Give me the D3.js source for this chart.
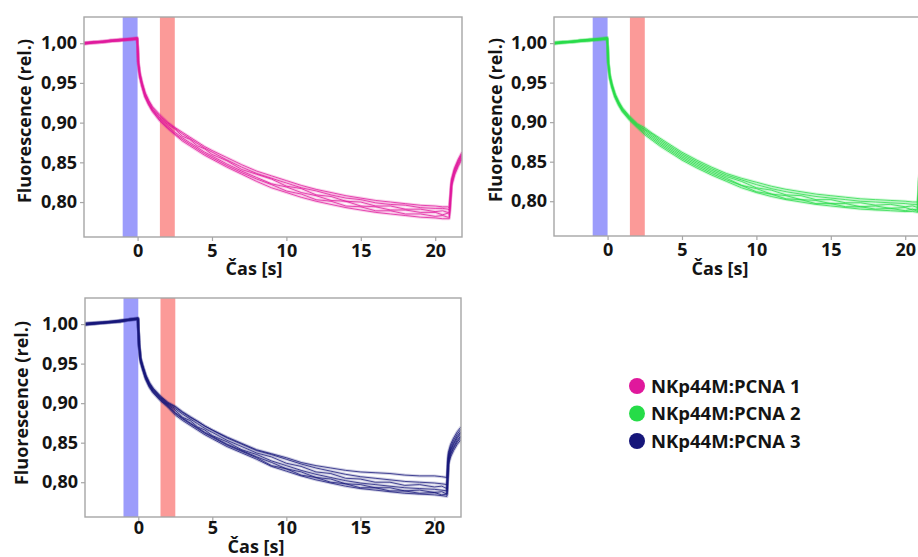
<!DOCTYPE html>
<html>
<head>
<meta charset="utf-8">
<script src="https://cdn.jsdelivr.net/npm/d3@7/dist/d3.min.js"></script>
<style>
  html, body { margin: 0; padding: 0; background: #fff; }
  svg { display: block; }
  text { font-family: "Open Sans", "DejaVu Sans", sans-serif; font-weight: 700; fill: #141414; }
</style>
</head>
<body>
<svg id="chart" width="918" height="557"></svg>
<script>
// ---------------- DATA ----------------
const times = [-3.6, -3.0, -2.4, -1.8, -1.2, -0.6, -0.02, 0.05, 0.15, 0.3, 0.5, 0.75, 1.0, 1.5, 2.0,
  2.5, 3.0, 3.5, 4.0, 4.5, 5.0, 6.0, 7.0, 8.0, 9.0, 10.0, 11.0, 12.0, 13.0, 14.0, 15.0, 16.0, 17.0,
  18.0, 19.0, 20.0, 20.5, 20.85, 20.95, 21.1, 21.3, 21.55, 21.8];

const seriesNames = ["NKp44M:PCNA 1", "NKp44M:PCNA 2", "NKp44M:PCNA 3"];
const seriesColors = ["#e0189c", "#26dc48", "#16167a"];

const xTickValues = [0, 5, 10, 15, 20];
const yTickValues = [0.80, 0.85, 0.90, 0.95, 1.00];
const bleachBand = [-1.0, 0.0];
const imagingBand = [1.5, 2.5];
const xTitle = "Čas [s]";
const yTitle = "Fluorescence (rel.)";

// NKp44M:PCNA 1 (magenta) – individual traces
const pcna1Traces = [
  [1.001,1.001,1.003,1.003,1.005,1.006,1.007,0.978,0.963,0.951,0.938,0.928,0.920,0.910,0.901,0.894,0.888,0.882,0.876,0.870,0.865,0.856,0.847,0.839,0.833,0.827,0.821,0.816,0.812,0.808,0.805,0.802,0.800,0.798,0.796,0.795,0.794,0.794,0.793,0.829,0.843,0.854,0.863],
  [1.000,1.002,1.002,1.004,1.004,1.005,1.006,0.977,0.962,0.950,0.937,0.927,0.919,0.908,0.900,0.893,0.886,0.880,0.874,0.868,0.863,0.853,0.844,0.836,0.830,0.824,0.818,0.814,0.809,0.805,0.803,0.799,0.797,0.796,0.793,0.792,0.792,0.791,0.790,0.827,0.841,0.852,0.861],
  [0.999,1.001,1.001,1.003,1.003,1.005,1.005,0.975,0.960,0.948,0.935,0.925,0.917,0.906,0.898,0.892,0.883,0.879,0.871,0.867,0.860,0.852,0.841,0.835,0.829,0.820,0.817,0.809,0.807,0.801,0.800,0.795,0.795,0.791,0.791,0.788,0.789,0.787,0.787,0.826,0.840,0.851,0.860],
  [0.999,1.000,1.001,1.002,1.003,1.004,1.005,0.974,0.959,0.947,0.934,0.924,0.916,0.905,0.896,0.888,0.881,0.875,0.869,0.863,0.858,0.848,0.839,0.831,0.823,0.819,0.812,0.808,0.802,0.801,0.795,0.794,0.790,0.790,0.787,0.787,0.784,0.786,0.784,0.824,0.838,0.849,0.858],
  [1.001,1.002,1.002,1.004,1.005,1.005,1.007,0.973,0.958,0.946,0.933,0.923,0.915,0.903,0.894,0.886,0.879,0.873,0.867,0.861,0.856,0.846,0.837,0.829,0.822,0.814,0.810,0.803,0.801,0.795,0.794,0.789,0.789,0.785,0.785,0.782,0.783,0.781,0.781,0.822,0.836,0.847,0.856],
  [0.999,1.000,1.001,1.002,1.003,1.004,1.005,0.972,0.957,0.945,0.932,0.922,0.914,0.902,0.893,0.885,0.877,0.871,0.865,0.859,0.854,0.844,0.835,0.826,0.818,0.812,0.806,0.801,0.797,0.793,0.790,0.787,0.785,0.783,0.781,0.780,0.779,0.779,0.779,0.820,0.834,0.845,0.854]
];

// NKp44M:PCNA 2 (green) – individual traces
const pcna2Traces = [
  [1.001,1.001,1.003,1.003,1.005,1.006,1.007,0.977,0.960,0.948,0.936,0.926,0.918,0.907,0.898,0.893,0.886,0.880,0.874,0.868,0.862,0.852,0.843,0.835,0.829,0.824,0.819,0.815,0.812,0.809,0.807,0.805,0.803,0.802,0.801,0.800,0.799,0.799,0.833,0.845,0.853,0.860,0.865],
  [1.000,1.002,1.002,1.004,1.004,1.005,1.006,0.976,0.959,0.947,0.935,0.925,0.917,0.906,0.897,0.891,0.885,0.878,0.872,0.866,0.860,0.850,0.841,0.833,0.827,0.821,0.816,0.812,0.809,0.806,0.804,0.802,0.800,0.799,0.798,0.797,0.796,0.796,0.831,0.843,0.851,0.858,0.863],
  [0.999,1.001,1.001,1.003,1.003,1.005,1.005,0.975,0.958,0.946,0.934,0.924,0.916,0.905,0.896,0.890,0.883,0.876,0.870,0.864,0.858,0.848,0.839,0.831,0.825,0.817,0.814,0.808,0.807,0.802,0.802,0.798,0.798,0.795,0.796,0.793,0.794,0.792,0.830,0.842,0.850,0.857,0.862],
  [0.999,1.000,1.001,1.002,1.003,1.004,1.005,0.974,0.957,0.945,0.933,0.923,0.915,0.904,0.895,0.888,0.881,0.874,0.868,0.862,0.856,0.846,0.837,0.829,0.820,0.816,0.809,0.807,0.802,0.801,0.797,0.797,0.793,0.794,0.791,0.792,0.789,0.790,0.829,0.841,0.849,0.856,0.861],
  [1.001,1.002,1.002,1.004,1.005,1.005,1.007,0.973,0.956,0.944,0.932,0.922,0.914,0.903,0.894,0.886,0.879,0.872,0.866,0.860,0.854,0.844,0.835,0.827,0.820,0.812,0.809,0.803,0.802,0.797,0.797,0.793,0.793,0.790,0.791,0.788,0.790,0.787,0.828,0.840,0.848,0.855,0.860],
  [0.999,1.000,1.001,1.002,1.003,1.004,1.005,0.972,0.955,0.943,0.931,0.921,0.913,0.902,0.893,0.884,0.877,0.870,0.864,0.858,0.852,0.842,0.833,0.825,0.817,0.811,0.806,0.802,0.799,0.796,0.794,0.792,0.790,0.789,0.788,0.787,0.787,0.786,0.826,0.838,0.846,0.853,0.858]
];

// NKp44M:PCNA 3 (navy) – individual traces
const pcna3Traces = [
  [1.000,1.001,1.002,1.003,1.004,1.006,1.007,0.977,0.957,0.947,0.935,0.925,0.918,0.908,0.900,0.895,0.888,0.882,0.877,0.871,0.866,0.857,0.849,0.841,0.836,0.831,0.825,0.821,0.818,0.815,0.813,0.812,0.811,0.809,0.808,0.808,0.807,0.806,0.838,0.848,0.856,0.864,0.870],
  [1.001,1.002,1.002,1.004,1.005,1.006,1.008,0.978,0.958,0.948,0.936,0.926,0.919,0.909,0.901,0.896,0.889,0.883,0.877,0.871,0.866,0.856,0.848,0.840,0.835,0.829,0.823,0.818,0.814,0.810,0.807,0.805,0.803,0.801,0.800,0.799,0.798,0.797,0.835,0.845,0.853,0.861,0.867],
  [0.999,1.001,1.001,1.003,1.003,1.006,1.006,0.976,0.956,0.946,0.934,0.924,0.917,0.907,0.899,0.893,0.886,0.880,0.874,0.868,0.863,0.853,0.845,0.837,0.832,0.824,0.820,0.813,0.811,0.805,0.804,0.800,0.800,0.796,0.797,0.794,0.795,0.792,0.832,0.842,0.850,0.858,0.864],
  [1.000,1.000,1.002,1.002,1.004,1.005,1.007,0.975,0.955,0.945,0.933,0.923,0.916,0.906,0.898,0.891,0.882,0.878,0.870,0.866,0.859,0.851,0.841,0.835,0.827,0.821,0.815,0.810,0.806,0.802,0.799,0.797,0.795,0.793,0.792,0.791,0.790,0.789,0.830,0.840,0.848,0.856,0.862],
  [0.999,1.000,1.001,1.002,1.003,1.005,1.006,0.974,0.954,0.944,0.932,0.922,0.915,0.905,0.897,0.888,0.881,0.875,0.869,0.863,0.858,0.848,0.840,0.832,0.825,0.817,0.813,0.806,0.804,0.798,0.797,0.793,0.793,0.789,0.790,0.787,0.788,0.785,0.827,0.837,0.845,0.853,0.859],
  [1.001,1.002,1.003,1.003,1.005,1.006,1.007,0.973,0.953,0.943,0.931,0.921,0.914,0.904,0.896,0.887,0.880,0.874,0.868,0.862,0.857,0.847,0.839,0.831,0.821,0.817,0.809,0.806,0.800,0.798,0.793,0.793,0.789,0.789,0.786,0.787,0.784,0.785,0.825,0.835,0.843,0.851,0.857],
  [0.999,1.000,1.001,1.002,1.003,1.005,1.006,0.972,0.952,0.942,0.930,0.920,0.913,0.903,0.895,0.885,0.878,0.872,0.866,0.860,0.855,0.845,0.837,0.829,0.820,0.814,0.808,0.803,0.799,0.795,0.792,0.790,0.788,0.786,0.785,0.784,0.783,0.782,0.822,0.832,0.840,0.848,0.854]
];

const seriesTraces = [pcna1Traces, pcna2Traces, pcna3Traces];

// ---------------- LAYOUT ----------------
const xDomain = [-3.6, 21.8];
const yDomain = [0.756, 1.033];
const panelLayout = [
  { left: 84,  top: 17,  w: 378, h: 220, pad: 3, yTitleX: 31,  yTitleY: 121, xTitleDX: 170, xTitleY: 275 },
  { left: 554, top: 17,  w: 378, h: 219, pad: 3, yTitleX: 502, yTitleY: 120, xTitleDX: 166, xTitleY: 275 },
  { left: 85,  top: 298, w: 376, h: 219, pad: 0, yTitleX: 28,  yTitleY: 403, xTitleDX: 171, xTitleY: 552.5 }
];
const legendLayout = { cx: 637, textX: 651, ys: [386, 413.5, 441], r: 8 };

const svg = d3.select("#chart");
svg.append("rect").attr("width", 918).attr("height", 557).attr("fill", "#fff");

const fmtY = v => d3.format(".2f")(v).replace(".", ",");
const gridGray = "#a6a6a6";

seriesTraces.forEach((traces, i) => {
  const L = panelLayout[i];
  const x = d3.scaleLinear().domain(xDomain).range([0, L.w]);
  const y = d3.scaleLinear().domain(yDomain).range([L.h, 0]);
  const g = svg.append("g").attr("transform", `translate(${L.left},${L.top})`);

  const clipId = "clip" + i;
  g.append("clipPath").attr("id", clipId)
    .append("rect").attr("width", L.w).attr("height", L.h);

  const plot = g.append("g").attr("clip-path", `url(#${clipId})`);

  // bands
  plot.append("rect")
    .attr("x", x(bleachBand[0])).attr("width", x(bleachBand[1]) - x(bleachBand[0]))
    .attr("y", 0).attr("height", L.h).attr("fill", "#9c9cfb");
  plot.append("rect")
    .attr("x", x(imagingBand[0])).attr("width", x(imagingBand[1]) - x(imagingBand[0]))
    .attr("y", 0).attr("height", L.h).attr("fill", "#fb9a98");

  const line = d3.line().x((d, k) => x(times[k])).y(d => y(d));

  // halo to mimic the noise around each trace
  plot.selectAll("path.halo").data(traces).join("path")
    .attr("class", "halo")
    .attr("d", line).attr("fill", "none")
    .attr("stroke", seriesColors[i]).attr("stroke-opacity", 0.2)
    .attr("stroke-width", 3).attr("stroke-linejoin", "round");
  plot.selectAll("path.trace").data(traces).join("path")
    .attr("class", "trace")
    .attr("d", line).attr("fill", "none")
    .attr("stroke", seriesColors[i]).attr("stroke-opacity", 0.85)
    .attr("stroke-width", 0.9).attr("stroke-linejoin", "round");

  // axes
  const xAxis = d3.axisBottom(x).tickValues(xTickValues).tickSize(4).tickPadding(L.pad).tickFormat(d3.format("d"));
  const yAxis = d3.axisLeft(y).tickValues(yTickValues).tickSize(4).tickPadding(3).tickFormat(fmtY);

  const gx = g.append("g").attr("transform", `translate(0,${L.h})`).call(xAxis);
  const gy = g.append("g").call(yAxis);
  [gx, gy].forEach(a => {
    a.select(".domain").remove();
    a.selectAll(".tick line").attr("stroke", gridGray).attr("stroke-width", 1.2);
    a.selectAll(".tick text").attr("font-size", 18).attr("font-family", "Open Sans, sans-serif")
      .attr("font-weight", 700).attr("fill", "#141414");
  });

  // frame
  g.append("rect").attr("x", 0).attr("y", 0).attr("width", L.w).attr("height", L.h)
    .attr("fill", "none").attr("stroke", gridGray).attr("stroke-width", 1.4);

  // titles
  svg.append("text")
    .attr("x", L.left + L.xTitleDX).attr("y", L.xTitleY)
    .attr("text-anchor", "middle").attr("font-size", 18)
    .text(xTitle);
  svg.append("text")
    .attr("transform", `translate(${L.yTitleX},${L.yTitleY}) rotate(-90)`)
    .attr("text-anchor", "middle").attr("font-size", 18)
    .text(yTitle);
});

// legend
const lg = svg.append("g");
seriesNames.forEach((name, i) => {
  lg.append("circle").attr("cx", legendLayout.cx).attr("cy", legendLayout.ys[i])
    .attr("r", legendLayout.r).attr("fill", seriesColors[i]);
  lg.append("text").attr("x", legendLayout.textX).attr("y", legendLayout.ys[i])
    .attr("dy", "0.36em").attr("font-size", 18.5).text(name);
});
</script>
</body>
</html>
